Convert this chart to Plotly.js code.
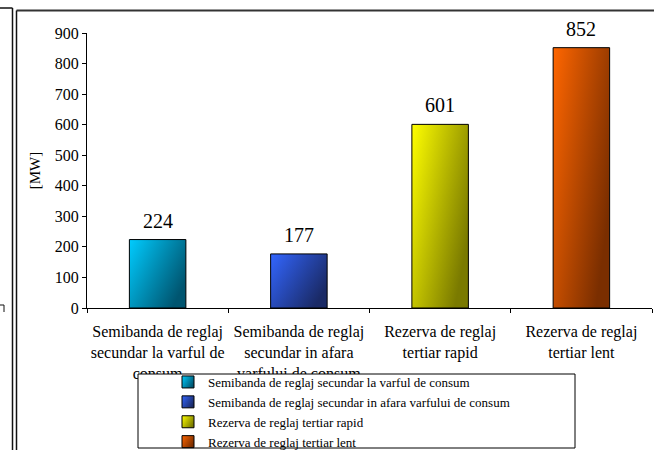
<!DOCTYPE html>
<html>
<head>
<meta charset="utf-8">
<script src="https://cdn.plot.ly/plotly-3.0.1.min.js"></script>
<style>
html,body{margin:0;padding:0;background:#fff;}
#chart{width:654px;height:450px;}
</style>
</head>
<body>
<div id="chart"></div>
<script>
// ---- data ----
var categories = [
  "Semibanda de reglaj<br>secundar la varful de<br>consum",
  "Semibanda de reglaj<br>secundar in afara<br>varfului de consum",
  "Rezerva de reglaj<br>tertiar rapid",
  "Rezerva de reglaj<br>tertiar lent"
];
var legendNames = [
  "Semibanda de reglaj secundar la varful de consum",
  "Semibanda de reglaj secundar in afara varfului de consum",
  "Rezerva de reglaj tertiar rapid",
  "Rezerva de reglaj tertiar lent"
];
var values = [224, 177, 601, 852];
var lightColors = ["#00CCFF", "#3366FF", "#FFFF00", "#FF6600"];
var darkColors  = ["#005570", "#1A2A66", "#7A7A00", "#7A2E00"];

// ---- layout helpers (pixel -> paper) ----
var W = 654, H = 450;
var M = {l: 87, r: 2, t: 33, b: 142, autoexpand: false};
var PW = W - M.l - M.r, PH = H - M.t - M.b;
function px(x){ return (x - M.l) / PW; }
function py(y){ return (H - M.b - y) / PH; }
function seg(x0, y0, x1, y1, w, c, layer){
  return {type: 'line', xref: 'paper', yref: 'paper',
    x0: px(x0), y0: py(y0), x1: px(x1), y1: py(y1),
    line: {color: c || '#111', width: w || 1.5}, layer: layer || 'above'};
}

var FONT = '"Liberation Serif", "Times New Roman", serif';

var traces = values.map(function(v, i){
  return {
    type: 'bar',
    x: [categories[i]],
    y: [v],
    name: legendNames[i],
    marker: {color: lightColors[i], line: {color: '#000', width: 1}},
    hoverinfo: 'x+y'
  };
});

var annotations = values.map(function(v, i){
  return {
    x: categories[i], y: v, xref: 'x', yref: 'y',
    text: String(v), showarrow: false,
    yanchor: 'bottom', yshift: 6,
    font: {family: FONT, size: 20, color: '#000'}
  };
});

var shapes = [
  // outer frame fragments
  seg(0, 8, 12.5, 8, 1.5),
  seg(12.5, 8, 12.5, 452, 1.5),
  seg(16.5, 10.5, 656, 10.5, 2, '#333'),
  seg(16.5, 10.5, 16.5, 452, 1.5),
  seg(0, 305, 4, 305, 1),
  seg(4, 305, 4, 312, 1),
  // legend box
  {type: 'rect', xref: 'paper', yref: 'paper',
   x0: px(138), x1: px(575), y0: py(374), y1: py(448),
   line: {color: '#000', width: 1}, fillcolor: '#fff', layer: 'above'}
];

var layout = {
  width: W, height: H,
  margin: M,
  paper_bgcolor: '#fff', plot_bgcolor: '#fff',
  font: {family: FONT, color: '#000', size: 15},
  barmode: 'overlay',
  bargap: 0.6,
  showlegend: true,
  legend: {
    x: px(168), y: py(367), xanchor: 'left', yanchor: 'top',
    bgcolor: 'rgba(0,0,0,0)', borderwidth: 0,
    font: {family: FONT, size: 13, color: '#000'},
    tracegroupgap: 0
  },
  xaxis: {
    type: 'category',
    showline: true, linecolor: '#000', linewidth: 1,
    ticks: 'outside', ticklen: 4, tickcolor: '#000', tickwidth: 1,
    tickson: 'boundaries',
    tickangle: 0,
    automargin: false,
    showgrid: false, zeroline: false,
    tickfont: {family: FONT, size: 16, color: '#000'},
    ticklabelstandoff: 9,
    fixedrange: true
  },
  yaxis: {
    range: [0, 900], dtick: 100, tick0: 0,
    showline: true, linecolor: '#000', linewidth: 1,
    ticks: 'outside', ticklen: 4, tickcolor: '#000', tickwidth: 1,
    showgrid: false, zeroline: false,
    automargin: true,
    tickfont: {family: FONT, size: 16, color: '#000'},
    title: {text: '[MW]', font: {family: FONT, size: 15, color: '#000'}, standoff: 10},
    fixedrange: true
  },
  annotations: annotations,
  shapes: shapes
};

function applyGradients(gd){
  var svg = gd.querySelector('svg.main-svg');
  if(!svg) return;
  var ns = 'http://www.w3.org/2000/svg';
  var defs = svg.querySelector('defs') || svg.insertBefore(document.createElementNS(ns, 'defs'), svg.firstChild);
  values.forEach(function(v, i){
    var g = document.createElementNS(ns, 'linearGradient');
    g.setAttribute('id', 'bargrad' + i);
    g.setAttribute('x1', '0'); g.setAttribute('y1', '0');
    g.setAttribute('x2', '1'); g.setAttribute('y2', '0.6');
    var s0 = document.createElementNS(ns, 'stop');
    s0.setAttribute('offset', '0'); s0.setAttribute('stop-color', lightColors[i]);
    var s1 = document.createElementNS(ns, 'stop');
    s1.setAttribute('offset', '1'); s1.setAttribute('stop-color', darkColors[i]);
    g.appendChild(s0); g.appendChild(s1);
    defs.appendChild(g);
  });
  var bars = gd.querySelectorAll('.barlayer .trace');
  bars.forEach(function(t, i){
    t.querySelectorAll('.point path').forEach(function(p){ p.style.fill = 'url(#bargrad' + i + ')'; });
  });
  var leg = gd.querySelectorAll('.legend .traces');
  leg.forEach(function(t, i){
    t.querySelectorAll('.legendpoints path').forEach(function(p){ p.style.fill = 'url(#bargrad' + i + ')'; });
  });
}

Plotly.newPlot('chart', traces, layout, {displayModeBar: false, staticPlot: true, responsive: false})
  .then(applyGradients);
</script>
</body>
</html>
